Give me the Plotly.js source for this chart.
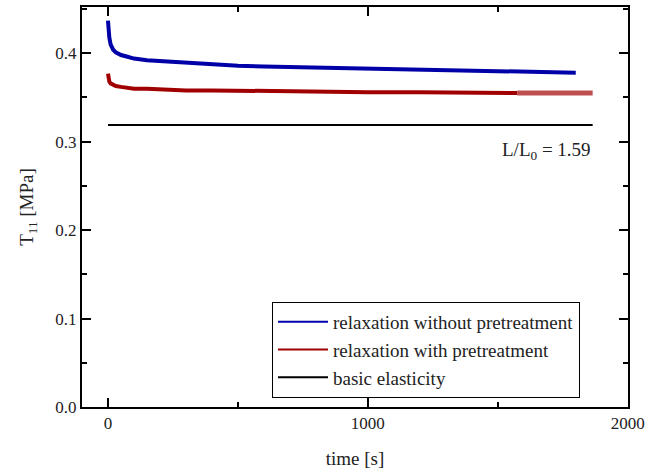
<!DOCTYPE html>
<html>
<head>
<meta charset="utf-8">
<script src="https://cdn.plot.ly/plotly-3.0.1.min.js"></script>
<style>html,body{margin:0;padding:0;background:#fff;}#chart{width:646px;height:469px;}#err{position:absolute;left:120px;top:180px;color:#f0f;font:12px monospace;white-space:pre-wrap;width:500px;}</style>
</head>
<body>
<div id="chart"></div>
<div id="err"></div>
<script>
function showErr(m){ document.getElementById("err").textContent += m + "\n"; }
window.onerror = function(msg, src, line, col){ showErr("ERR: " + msg + " @" + line + ":" + col); };

// time [s]
var timeBlue = [0, 1, 2, 5, 10, 20, 30, 50, 75, 100, 150, 200, 300, 400, 500, 600, 800, 1000, 1200, 1400, 1600, 1800];
var t11Blue  = [0.437, 0.432, 0.427, 0.418, 0.410, 0.404, 0.401, 0.398, 0.396, 0.394, 0.392, 0.391, 0.389, 0.388, 0.386, 0.385, 0.384, 0.382, 0.381, 0.380, 0.379, 0.378];

var timeRed = [0, 1, 2, 5, 10, 20, 30, 50, 75, 100, 150, 200, 300, 400, 600, 800, 1000, 1200, 1400, 1575];
var t11Red  = [0.377, 0.375, 0.372, 0.368, 0.366, 0.364, 0.363, 0.362, 0.361, 0.360, 0.360, 0.359, 0.358, 0.358, 0.357, 0.357, 0.356, 0.356, 0.356, 0.355];

var timeRedTail = [1575, 1700, 1865];
var t11RedTail  = [0.355, 0.355, 0.355];

var timeBasic = [0, 1865];
var t11Basic  = [0.319, 0.319];

var seriesNames = ["relaxation without pretreatment", "relaxation with pretreatment", "basic elasticity"];
var seriesColors = ["#0000A8", "#A00000", "#000000"];
var annotText = "L/L<sub>0</sub> = 1.59";
var annotX = 1865, annotY = 0.289;

var xTickVals = [0, 1000, 2000];
var xTickText = ["0", "1000", "2000"];
var xMinorVals = [0, 500, 1000, 1500, 2000];
var yTickVals = [0, 0.1, 0.2, 0.3, 0.4];
var yTickText = ["0.0", "0.1", "0.2", "0.3", "0.4"];
var yMinorVals = [0, 0.05, 0.1, 0.15, 0.2, 0.25, 0.3, 0.35, 0.4, 0.45];

var xRange = [-100, 2001];
var yRange = [0, 0.4523];

var serif = "Liberation Serif";

var traces = [
  {x: timeBlue, y: t11Blue, mode: "lines", showlegend: false, line: {color: seriesColors[0], width: 4}},
  {x: timeRed, y: t11Red, mode: "lines", showlegend: false, line: {color: seriesColors[1], width: 4}},
  {x: timeRedTail, y: t11RedTail, mode: "lines", showlegend: false, line: {color: "rgba(170,20,20,0.75)", width: 5}},
  {x: timeBasic, y: t11Basic, mode: "lines", showlegend: false, line: {color: seriesColors[2], width: 2}},
  {x: [null], y: [null], mode: "lines", name: seriesNames[0], line: {color: seriesColors[0], width: 2}},
  {x: [null], y: [null], mode: "lines", name: seriesNames[1], line: {color: seriesColors[1], width: 2}},
  {x: [null], y: [null], mode: "lines", name: seriesNames[2], line: {color: seriesColors[2], width: 2}},
  {x: [null], y: [null], xaxis: "x2", yaxis: "y2", mode: "lines", showlegend: false, hoverinfo: "skip"}
];

var layout = {
  width: 646, height: 469,
  margin: {l: 82, r: 18, t: 7, b: 62},
  xaxis: {
    showline: true, linecolor: "#000", linewidth: 2, mirror: "ticks",
    ticks: "inside", ticklen: 9, tickwidth: 2, tickcolor: "#000",
    showgrid: false, zeroline: false,
    tickfont: {family: serif, size: 17, color: "#222"},
    range: xRange, tickmode: "array", tickvals: xTickVals, ticktext: xTickText,
    title: {text: "time [s]", font: {family: serif, size: 19, color: "#222"}}
  },
  yaxis: {
    showline: true, linecolor: "#000", linewidth: 2, mirror: "ticks",
    ticks: "inside", ticklen: 9, tickwidth: 2, tickcolor: "#000",
    showgrid: false, zeroline: false,
    tickfont: {family: serif, size: 17, color: "#222"},
    range: yRange, tickmode: "array", tickvals: yTickVals, ticktext: yTickText,
    title: {text: "T<sub>11</sub> [MPa]", font: {family: serif, size: 19, color: "#222"}}
  },
  xaxis2: {
    overlaying: "x", range: xRange, tickmode: "array", tickvals: xMinorVals,
    ticks: "inside", ticklen: 5, tickwidth: 2, tickcolor: "#000", mirror: "ticks",
    showline: false, showgrid: false, zeroline: false, showticklabels: false, anchor: "y2"
  },
  yaxis2: {
    overlaying: "y", range: yRange, tickmode: "array", tickvals: yMinorVals,
    ticks: "inside", ticklen: 5, tickwidth: 2, tickcolor: "#000", mirror: "ticks",
    showline: false, showgrid: false, zeroline: false, showticklabels: false, anchor: "x2"
  },
  legend: {
    x: 0.348, y: 0.2625, xanchor: "left", yanchor: "top",
    bgcolor: "#fff", bordercolor: "#000", borderwidth: 1,
    itemwidth: 50,
    font: {family: serif, size: 19, color: "#222"}
  },
  annotations: [{
    x: annotX, y: annotY, xref: "x", yref: "y", text: annotText, showarrow: false,
    xanchor: "right", yanchor: "middle", font: {family: serif, size: 19, color: "#222"}
  }],
  showlegend: true
};

try {
  var p = Plotly.newPlot("chart", traces, layout, {displayModeBar: false});
  if (p && p.catch) p.catch(function(e){ showErr("PROMISE: " + e); });
} catch (e) { showErr("CATCH: " + e + " " + (e.stack||"").slice(0,300)); }
</script>
</body>
</html>
